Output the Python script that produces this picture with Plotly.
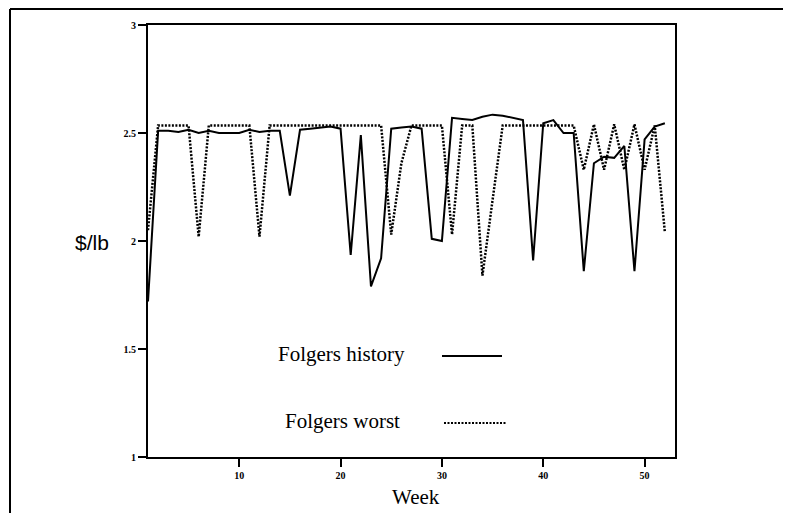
import plotly.graph_objects as go

weeks = list(range(1, 53))
history = [1.72, 2.51, 2.51, 2.505, 2.515, 2.50, 2.51, 2.50, 2.50, 2.50,
           2.515, 2.505, 2.51, 2.51, 2.21, 2.515, 2.52, 2.525, 2.53, 2.52,
           1.935, 2.49, 1.79, 1.92, 2.52, 2.525, 2.53, 2.52, 2.01, 2.00,
           2.57, 2.565, 2.56, 2.575, 2.585, 2.58, 2.57, 2.56, 1.91, 2.545,
           2.56, 2.50, 2.50, 1.86, 2.36, 2.39, 2.385, 2.44, 1.86, 2.47,
           2.53, 2.545]
worst = [2.05, 2.535, 2.535, 2.535, 2.535, 2.02, 2.535, 2.535, 2.535, 2.535,
         2.535, 2.02, 2.535, 2.535, 2.535, 2.535, 2.535, 2.535, 2.535, 2.535,
         2.535, 2.535, 2.535, 2.535, 2.03, 2.36, 2.535, 2.535, 2.535, 2.535,
         2.03, 2.535, 2.535, 1.84, 2.19, 2.535, 2.535, 2.535, 2.535, 2.535,
         2.535, 2.535, 2.535, 2.33, 2.54, 2.33, 2.54, 2.33, 2.54, 2.33,
         2.535, 2.04]
xtick_vals = [10, 20, 30, 40, 50]
ytick_vals = [1, 1.5, 2, 2.5, 3]
ytick_text = ["1", "1.5", "2", "2.5", "3"]

# page has an 8px body margin: work in reference-pixel coords minus 8
OFF = 8
W, H = 791 - 2 * OFF, 521 - 2 * OFF
L, R, T, B = 148 - OFF, 675 - OFF, 25 - OFF, 457 - OFF


def px(x):
    return (x - OFF - L) / (R - L)


def py(y):
    return (B - (y - OFF)) / (B - T)


fig = go.Figure()
fig.add_trace(go.Scatter(x=weeks, y=history, mode="lines", name="Folgers history",
                         line=dict(color="black", width=2), showlegend=False))
fig.add_trace(go.Scatter(x=weeks, y=worst, mode="lines", name="Folgers worst",
                         line=dict(color="black", width=2.5, dash="2px,1.5px"),
                         showlegend=False))

serif = "Liberation Serif"
axis_common = dict(showline=True, linecolor="black", linewidth=2, mirror=True,
                   ticks="outside", tickcolor="black", tickwidth=1.5,
                   showgrid=False, zeroline=False,
                   tickfont=dict(family=serif, size=10, color="black", weight="bold"))

fig.update_layout(
    width=W, height=H,
    margin=dict(l=L, r=W - R, t=T, b=H - B, pad=0),
    paper_bgcolor="white", plot_bgcolor="white",
    xaxis=dict(range=[1, 53], tickvals=xtick_vals, ticklen=8, **axis_common),
    yaxis=dict(range=[1, 3], tickvals=ytick_vals, ticktext=ytick_text, ticklen=8,
               **axis_common),
)

# outer frame (top and left edges)
fig.add_shape(type="line", xref="paper", yref="paper",
              x0=px(10), x1=px(800), y0=py(9), y1=py(9),
              line=dict(color="black", width=2))
fig.add_shape(type="line", xref="paper", yref="paper",
              x0=px(10), x1=px(10), y0=py(9), y1=py(530),
              line=dict(color="black", width=2))

# legend samples
fig.add_shape(type="line", xref="paper", yref="paper",
              x0=px(442), x1=px(502), y0=py(356), y1=py(356),
              line=dict(color="black", width=2))
fig.add_shape(type="line", xref="paper", yref="paper",
              x0=px(444), x1=px(506), y0=py(423), y1=py(423),
              line=dict(color="black", width=2, dash="2px,1.5px"))

ann = dict(xref="paper", yref="paper", showarrow=False,
           xanchor="center", yanchor="middle")
fig.add_annotation(x=px(341), y=py(354), text="Folgers history",
                   font=dict(family=serif, size=21, color="black"), **ann)
fig.add_annotation(x=px(342), y=py(421), text="Folgers worst",
                   font=dict(family=serif, size=21, color="black"), **ann)
fig.add_annotation(x=px(416), y=py(497), text="Week",
                   font=dict(family=serif, size=21, color="black"), **ann)
fig.add_annotation(x=px(92), y=py(242), text="$/lb",
                   font=dict(family="Liberation Sans", size=21, color="black"), **ann)

fig.write_html("out.html")
